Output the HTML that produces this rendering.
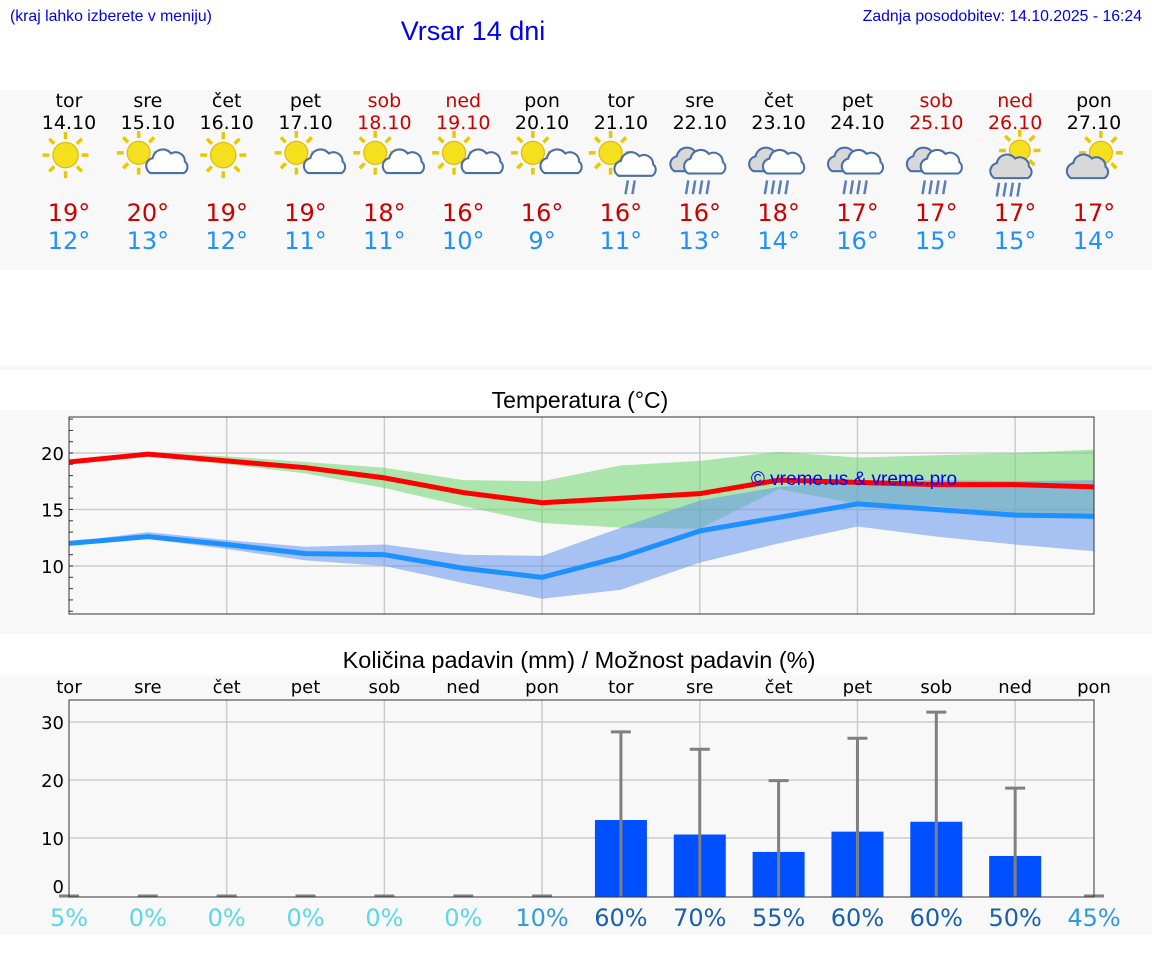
<!DOCTYPE html>
<html><head><meta charset="utf-8">
<style>
body{margin:0;background:#fff;width:1152px;height:975px;overflow:hidden;font-family:"DejaVu Sans","Liberation Sans",sans-serif}
svg{display:block}
</style></head>
<body>
<svg id="s" width="1152" height="975" xmlns="http://www.w3.org/2000/svg">
<text x="10" y="21" font-family="Liberation Sans, sans-serif" font-size="15.8" fill="#0000ee">(kraj lahko izberete v meniju)</text>
<text x="473" y="40" text-anchor="middle" font-family="Liberation Sans, sans-serif" font-size="27" fill="#0000ee">Vrsar 14 dni</text>
<text x="1142" y="21" text-anchor="end" font-family="Liberation Sans, sans-serif" font-size="15.8" fill="#0000ee">Zadnja posodobitev: 14.10.2025 - 16:24</text>
<rect x="0" y="90" width="1152" height="180" fill="#f8f8f8"/>
<rect x="0" y="365" width="1152" height="5" fill="#f8f8f8"/>
<rect x="0" y="410" width="1152" height="224" fill="#f8f8f8"/>
<text x="580" y="408" text-anchor="middle" font-family="Liberation Sans, sans-serif" font-size="23" fill="#000">Temperatura (°C)</text>
<rect x="0" y="675" width="1152" height="260" fill="#f8f8f8"/>
<text x="579" y="668" text-anchor="middle" font-family="Liberation Sans, sans-serif" font-size="23.5" fill="#000">Količina padavin (mm) / Možnost padavin (%)</text>
<g id="g"></g>
</svg>
<script>
const days=["tor","sre","čet","pet","sob","ned","pon","tor","sre","čet","pet","sob","ned","pon"];
const dates=["14.10","15.10","16.10","17.10","18.10","19.10","20.10","21.10","22.10","23.10","24.10","25.10","26.10","27.10"];
const weekend=[0,0,0,0,1,1,0,0,0,0,0,1,1,0];
const icons=[0,1,0,1,1,1,1,2,3,3,3,3,4,5];
const tmaxDay=[19,20,19,19,18,16,16,16,16,18,17,17,17,17];
const tminDay=[12,13,12,11,11,10,9,11,13,14,16,15,15,14];
const maxLine=[19.2,19.9,19.3,18.7,17.8,16.5,15.6,16.0,16.4,17.6,17.4,17.2,17.2,17.0];
const maxHi=[19.3,20.1,19.7,19.2,18.7,17.6,17.5,18.9,19.3,20.1,19.6,19.8,20.0,20.3];
const maxLo=[19.1,19.7,19.0,18.2,16.9,15.3,13.8,13.4,13.3,16.8,15.5,15.3,14.7,14.1];
const minLine=[12.0,12.6,11.9,11.1,11.0,9.8,9.0,10.8,13.1,14.3,15.5,15.0,14.5,14.4];
const minHi=[12.1,13.0,12.3,11.7,11.9,11.0,10.9,13.4,15.8,17.0,17.5,17.6,17.5,17.6];
const minLo=[11.8,12.4,11.5,10.5,10.0,8.5,7.1,7.9,10.3,12.0,13.5,12.6,11.9,11.3];
const tTicks=[10,15,20];
const precip=[0,0,0,0,0,0,0,13.1,10.6,7.6,11.1,12.8,6.9,0];
const precipMax=[0,0,0,0,0,0,0,28.3,25.3,19.9,27.2,31.7,18.6,0];
const chance=[5,0,0,0,0,0,10,60,70,55,60,60,50,45];
const pTicks=[0,10,20,30];

const NS="http://www.w3.org/2000/svg", G=document.getElementById('g');
function el(t,a,p){const e=document.createElementNS(NS,t);for(const k in a)e.setAttribute(k,a[k]);(p||G).appendChild(e);return e;}
const X0=69,X1=1094,step=(X1-X0)/13;
const xs=i=>X0+i*step;
const TY0=417,TY1=614, ty=v=>453+(20-v)*11.3;
const PY0=700,PY1=897, py=v=>896-v*5.8;

for(let i=0;i<14;i++){
  const x=xs(i), c=weekend[i]?'#cc0000':'#000';
  let t=el('text',{x:x,y:107,'text-anchor':'middle','font-size':19,fill:c});t.textContent=days[i];
  
  t=el('text',{x:x,y:129,'text-anchor':'middle','font-size':19,fill:c});t.textContent=dates[i];
  
  t=el('text',{x:x,y:221,'text-anchor':'middle','font-size':24,fill:'#cc0000'});t.textContent=tmaxDay[i]+'°';
  
  t=el('text',{x:x,y:249,'text-anchor':'middle','font-size':24,fill:'#1e90ff'});t.textContent=tminDay[i]+'°';
  
  const g=el('g',{transform:`translate(${x},162) scale(1.15)`});
  
  const k=icons[i];
  const sun=(cx,cy,r)=>{for(let a=0;a<8;a++){const an=a*Math.PI/4;el('line',{x1:cx+Math.cos(an)*(r+3),y1:cy+Math.sin(an)*(r+3),x2:cx+Math.cos(an)*(r+9),y2:cy+Math.sin(an)*(r+9),stroke:'#e8c800','stroke-width':3},g);}el('circle',{cx:cx,cy:cy,r:r,fill:'#f5e020',stroke:'#e0b800','stroke-width':1},g);};
  const cloud=(cx,cy,s,fill)=>{el('path',{d:`M${cx-14*s},${cy+8*s} a7 7 0 0 1 2,-13 a9 9 0 0 1 16,-4 a8 8 0 0 1 12,7 a6 6 0 0 1 -1,10 z`,fill:fill,stroke:'#4a6fa5','stroke-width':1.8},g);};
  const rain=(cx,cy,n)=>{for(let r=0;r<n;r++)el('line',{x1:cx+r*6,y1:cy,x2:cx+r*6-2,y2:cy+12,stroke:'#5b7fb8','stroke-width':2.2},g);};
  if(k===0){sun(-3,-6,11);}
  else if(k===1){sun(-8,-8,10);cloud(12,4,0.7,'#fff');}
  else if(k===2){sun(-9,-8,10);cloud(12,4,1,'#fff');rain(6,16,2);}
  else if(k===3){cloud(-8,0,1,'#d8d8d8');cloud(4,2,1,'#fff');rain(-10,16,4);}
  else if(k===4){sun(4,-10,9);cloud(-4,6,1,'#d8d8d8');rain(-14,18,4);}
  else if(k===5){sun(6,-8,10);cloud(-6,6,1,'#d8d8d8');}
}
el('rect',{x:X0,y:TY0,width:X1-X0,height:TY1-TY0,fill:'#f8f8f8'});
tTicks.forEach(v=>{el('line',{x1:X0,x2:X1,y1:ty(v),y2:ty(v),stroke:'#ccc','stroke-width':1.5});
  const t=el('text',{x:X0-5,y:ty(v)+7,'text-anchor':'end','font-size':18});t.textContent=v;
  });
for(let v=6;v<=23;v++)el('line',{x1:X0,x2:X0+4,y1:ty(v),y2:ty(v),stroke:'#333'});
for(let i=2;i<13;i+=2)el('line',{x1:xs(i),x2:xs(i),y1:TY0,y2:TY1,stroke:'#ccc','stroke-width':1.5});
const band=(hi,lo,c,name)=>{let d='M'+hi.map((v,i)=>xs(i)+','+ty(v)).join('L')+'L'+lo.map((v,i)=>xs(i)+','+ty(v)).reverse().join('L')+'Z';
  const p=el('path',{d:d,fill:c,'fill-opacity':0.55});};
band(maxHi,maxLo,'#6cd66c','max-temp-range');
band(minHi,minLo,'#6495ed','min-temp-range');
const line=(a,c,name)=>{const p=el('polyline',{points:a.map((v,i)=>xs(i)+','+ty(v)).join(' '),fill:'none',stroke:c,'stroke-width':5});};
line(minLine,'#1e90ff','min-temp-line');
line(maxLine,'#ff0000','max-temp-line');
el('rect',{x:X0,y:TY0,width:X1-X0,height:TY1-TY0,fill:'none',stroke:'#333'});
let wm=el('text',{x:854,y:485,'text-anchor':'middle','font-family':'Liberation Sans, sans-serif','font-size':19,fill:'#0000ff'});wm.textContent='© vreme.us & vreme.pro';


for(let i=0;i<14;i++){const t=el('text',{x:xs(i),y:693,'text-anchor':'middle','font-size':18});t.textContent=days[i];
  }
el('rect',{x:X0,y:PY0,width:X1-X0,height:PY1-PY0,fill:'#f8f8f8'});
pTicks.forEach(v=>{if(v>0)el('line',{x1:X0,x2:X1,y1:py(v),y2:py(v),stroke:'#ccc','stroke-width':1.5});
  const t=el('text',{x:X0-5,y:(v?py(v):886)+7,'text-anchor':'end','font-size':18});t.textContent=v;
  });
for(let i=2;i<13;i+=2)el('line',{x1:xs(i),x2:xs(i),y1:PY0,y2:PY1,stroke:'#ccc','stroke-width':1.5});
for(let i=0;i<14;i++){
  const x=xs(i);
  if(precip[i]>0){const b=el('rect',{x:x-26,y:py(precip[i]),width:52,height:py(0)-py(precip[i])+1,fill:'#0050ff'});
    }
  const w=el('line',{x1:x,x2:x,y1:py(precipMax[i]),y2:PY1,stroke:'#808080','stroke-width':3});
  
  el('line',{x1:x-10,x2:x+10,y1:py(precipMax[i]),y2:py(precipMax[i]),stroke:'#808080','stroke-width':3});
  const c=chance[i], col=c<10?'#5ad8e8':c<50?'#3399dd':'#1a5fb4';
  const t=el('text',{x:x,y:926,'text-anchor':'middle','font-size':24,fill:col});t.textContent=c+'%';
  
}
el('rect',{x:X0,y:PY0,width:X1-X0,height:PY1-PY0,fill:'none',stroke:'#333'});
</script>
</body></html>
